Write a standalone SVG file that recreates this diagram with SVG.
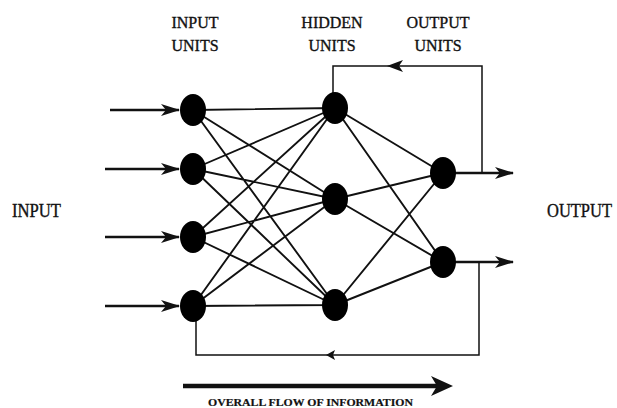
<svg xmlns="http://www.w3.org/2000/svg" width="617" height="408" viewBox="0 0 617 408">
<defs>
<style>
.lbl{font-family:"Liberation Serif","Times New Roman",serif;fill:#111;stroke:#111;stroke-width:0.35;}
.top{font-size:16px;text-anchor:middle;}
.side{font-size:18px;}
.flow{font-size:10.5px;font-weight:bold;stroke-width:0.2;}
.e{stroke:#111;stroke-width:1.9;fill:none;}
.fb{stroke:#111;stroke-width:1.5;fill:none;}
.ar{stroke:#111;stroke-width:2.4;fill:none;}
.node{fill:#000;}
</style>
<marker id="ah" viewBox="0 0 19 12" refX="18" refY="6" markerWidth="19" markerHeight="12" markerUnits="userSpaceOnUse" orient="auto">
<path d="M0,0 L19,6 L0,12 L5,6 Z" fill="#111"/>
</marker>
</defs>
<rect width="617" height="408" fill="#fff"/>
<g id="labels">
<text class="lbl top" x="195" y="28">INPUT</text>
<text class="lbl top" x="195" y="51">UNITS</text>
<text class="lbl top" x="332" y="28">HIDDEN</text>
<text class="lbl top" x="332" y="51">UNITS</text>
<text class="lbl top" x="438" y="28">OUTPUT</text>
<text class="lbl top" x="438" y="51">UNITS</text>
<text class="lbl side" x="12" y="217" textLength="49" lengthAdjust="spacingAndGlyphs">INPUT</text>
<text class="lbl side" x="547" y="217" textLength="65" lengthAdjust="spacingAndGlyphs">OUTPUT</text>
<text class="lbl flow" x="208" y="406" textLength="205" lengthAdjust="spacingAndGlyphs">OVERALL FLOW OF INFORMATION</text>
</g>
<g id="connectors">
<!-- input to hidden -->
<path class="e" d="M193,110 L335,108 M193,110 L335,199 M193,110 L335,305
M193,169 L335,108 M193,169 L335,199 M193,169 L335,305
M193,237 L335,108 M193,237 L335,199 M193,237 L335,305
M193,306 L335,108 M193,306 L335,199 M193,306 L335,305"/>
<!-- hidden to output -->
<path class="e" d="M335,108 L443,173 M335,108 L443,262
M335,199 L443,173 M335,199 L443,262
M335,305 L443,173 M335,305 L443,262"/>
<!-- input arrows -->
<line class="ar" x1="110" y1="110" x2="179" y2="110" marker-end="url(#ah)"/>
<line class="ar" x1="105" y1="169" x2="179" y2="169" marker-end="url(#ah)"/>
<line class="ar" x1="105" y1="237" x2="179" y2="237" marker-end="url(#ah)"/>
<line class="ar" x1="105" y1="306" x2="179" y2="306" marker-end="url(#ah)"/>
<!-- output arrows -->
<line class="ar" x1="443" y1="173" x2="513" y2="173" stroke-width="2.8" marker-end="url(#ah)"/>
<line class="ar" x1="443" y1="262" x2="513" y2="262" stroke-width="2.8" marker-end="url(#ah)"/>
<!-- feedback top -->
<path class="fb" d="M482,173 L482,66 L333,66 L333,95"/>
<polygon points="387,66 403,60 399,66 403,72" fill="#111"/>
<!-- feedback bottom -->
<path class="fb" d="M479,262 L479,355 L196,355 L196,320"/>
<polygon points="326,355 335,350 333,355 335,360" fill="#111"/>
<!-- overall flow -->
<line x1="183" y1="386" x2="437" y2="386" stroke="#111" stroke-width="4.5"/>
<polygon points="453,386 431,376 437,386 431,396" fill="#111"/>
</g>
<g id="input-node-1"><ellipse class="node" cx="193" cy="110" rx="13" ry="16"/></g>
<g id="input-node-2"><ellipse class="node" cx="193" cy="169" rx="13" ry="16"/></g>
<g id="input-node-3"><ellipse class="node" cx="193" cy="237" rx="13" ry="16"/></g>
<g id="input-node-4"><ellipse class="node" cx="193" cy="306" rx="13" ry="16"/></g>
<g id="hidden-node-1"><ellipse class="node" cx="335" cy="108" rx="13" ry="16"/></g>
<g id="hidden-node-2"><ellipse class="node" cx="335" cy="199" rx="13" ry="16"/></g>
<g id="hidden-node-3"><ellipse class="node" cx="335" cy="305" rx="13" ry="16"/></g>
<g id="output-node-1"><ellipse class="node" cx="443" cy="173" rx="13" ry="16"/></g>
<g id="output-node-2"><ellipse class="node" cx="443" cy="262" rx="13" ry="16"/></g>
</svg>
